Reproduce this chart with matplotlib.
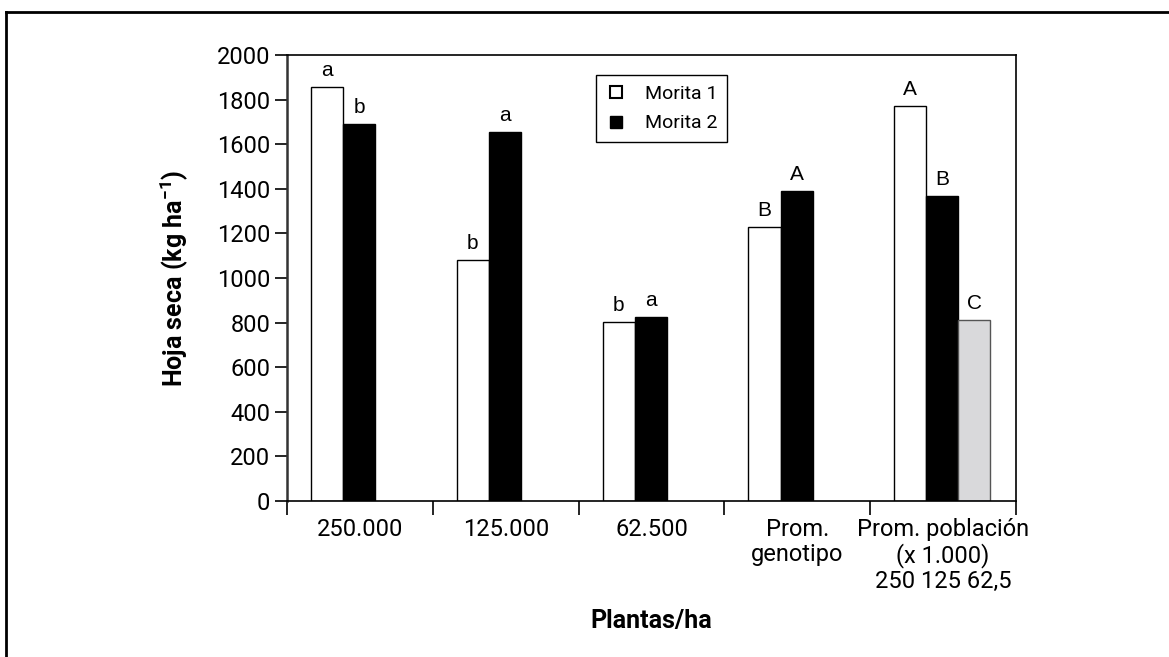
import numpy as np
import matplotlib.pyplot as plt
from matplotlib.lines import Line2D

plt.rcParams['font.family'] = ['Roboto', 'DejaVu Sans']
plt.rcParams['mathtext.fontset'] = 'custom'
plt.rcParams['mathtext.rm'] = 'Roboto'
plt.rcParams['mathtext.bf'] = 'Roboto:bold'

# Datos
categorias = ['250.000', '125.000', '62.500', 'Prom.\ngenotipo',
              'Prom. población\n(x 1.000)\n250 125 62,5']
morita1 = [1857, 1081, 803, 1229, 1771]
morita2 = [1689, 1655, 825, 1390, 1368]
pob_62 = 812
letras1 = ['a', 'b', 'b', 'B', 'A']
letras2 = ['b', 'a', 'a', 'A', 'B']
letra_62 = 'C'

fig = plt.figure(figsize=(11.69, 6.57), dpi=100)
ax = fig.add_axes([287/1169, 1 - 501/657, 729/1169, 446/657])

x = np.arange(len(categorias))
w = 0.22
ax.bar(x + 0.275, morita1, w, color='white', edgecolor='black', linewidth=1)
ax.bar(x + 0.495, morita2, w, color='black', edgecolor='black', linewidth=1)
ax.bar(x[-1:] + 0.715, [pob_62], w, color='#d9d9db', edgecolor='#555555', linewidth=1)

# letras de significancia
fs_l = 15
for xi, v, t in zip(x + 0.275, morita1, letras1):
    ax.annotate(t, (xi, v), xytext=(0, 5), textcoords='offset points',
                ha='center', va='bottom', fontsize=fs_l, family='Liberation Sans')
for xi, v, t in zip(x + 0.495, morita2, letras2):
    ax.annotate(t, (xi, v), xytext=(0, 5), textcoords='offset points',
                ha='center', va='bottom', fontsize=fs_l, family='Liberation Sans')
ax.annotate(letra_62, (x[-1] + 0.715, pob_62), xytext=(0, 5), textcoords='offset points',
            ha='center', va='bottom', fontsize=fs_l, family='Liberation Sans')

ax.set_xlim(0, 5)
ax.set_ylim(0, 2000)
ax.set_yticks(np.arange(0, 2001, 200))
ax.tick_params(axis='y', direction='out', length=9, width=1.2, labelsize=17, pad=3)
ax.set_xticks(np.arange(0, 6))
ax.set_xticklabels([])
ax.tick_params(axis='x', direction='out', length=10, width=1.2)
for xi, c in zip(x + 0.5, categorias):
    ax.text(xi, -0.038, c, transform=ax.get_xaxis_transform(), ha='center', va='top',
            fontsize=17, linespacing=1.1)

for s in ax.spines.values():
    s.set_linewidth(1.2)
ax.spines['left'].set_linewidth(1.8)
ax.spines['left'].set_color('#333333')

ax.set_ylabel('Hoja seca (kg ha$^{\\mathbf{-1}}$)', fontsize=18, fontweight='bold')
ax.yaxis.set_label_coords(-0.133, 0.5)
ax.text(0.5, -0.269, 'Plantas/ha', transform=ax.transAxes, ha='center', va='center',
        fontsize=18, fontweight='bold')

handles = [Line2D([], [], marker='s', color='none', markerfacecolor='white',
                  markeredgecolor='black', markersize=8, markeredgewidth=1.5),
           Line2D([], [], marker='s', color='none', markerfacecolor='black',
                  markeredgecolor='black', markersize=8)]
leg = ax.legend(handles, ['Morita 1', 'Morita 2'], loc='upper left',
                bbox_to_anchor=(0.424, 0.955), borderaxespad=0, fontsize=14,
                fancybox=False, edgecolor='black', framealpha=1,
                handlelength=1.0, handletextpad=1.0, borderpad=0.5, labelspacing=0.6)
leg.get_frame().set_linewidth(1)

# marco exterior
fig.add_artist(Line2D([6/1169, 1.0], [1 - 12/657, 1 - 12/657], color='black', linewidth=2))
fig.add_artist(Line2D([6/1169, 6/1169], [0.0, 1 - 12/657], color='black', linewidth=2))

fig.savefig('out.png', dpi=100)
